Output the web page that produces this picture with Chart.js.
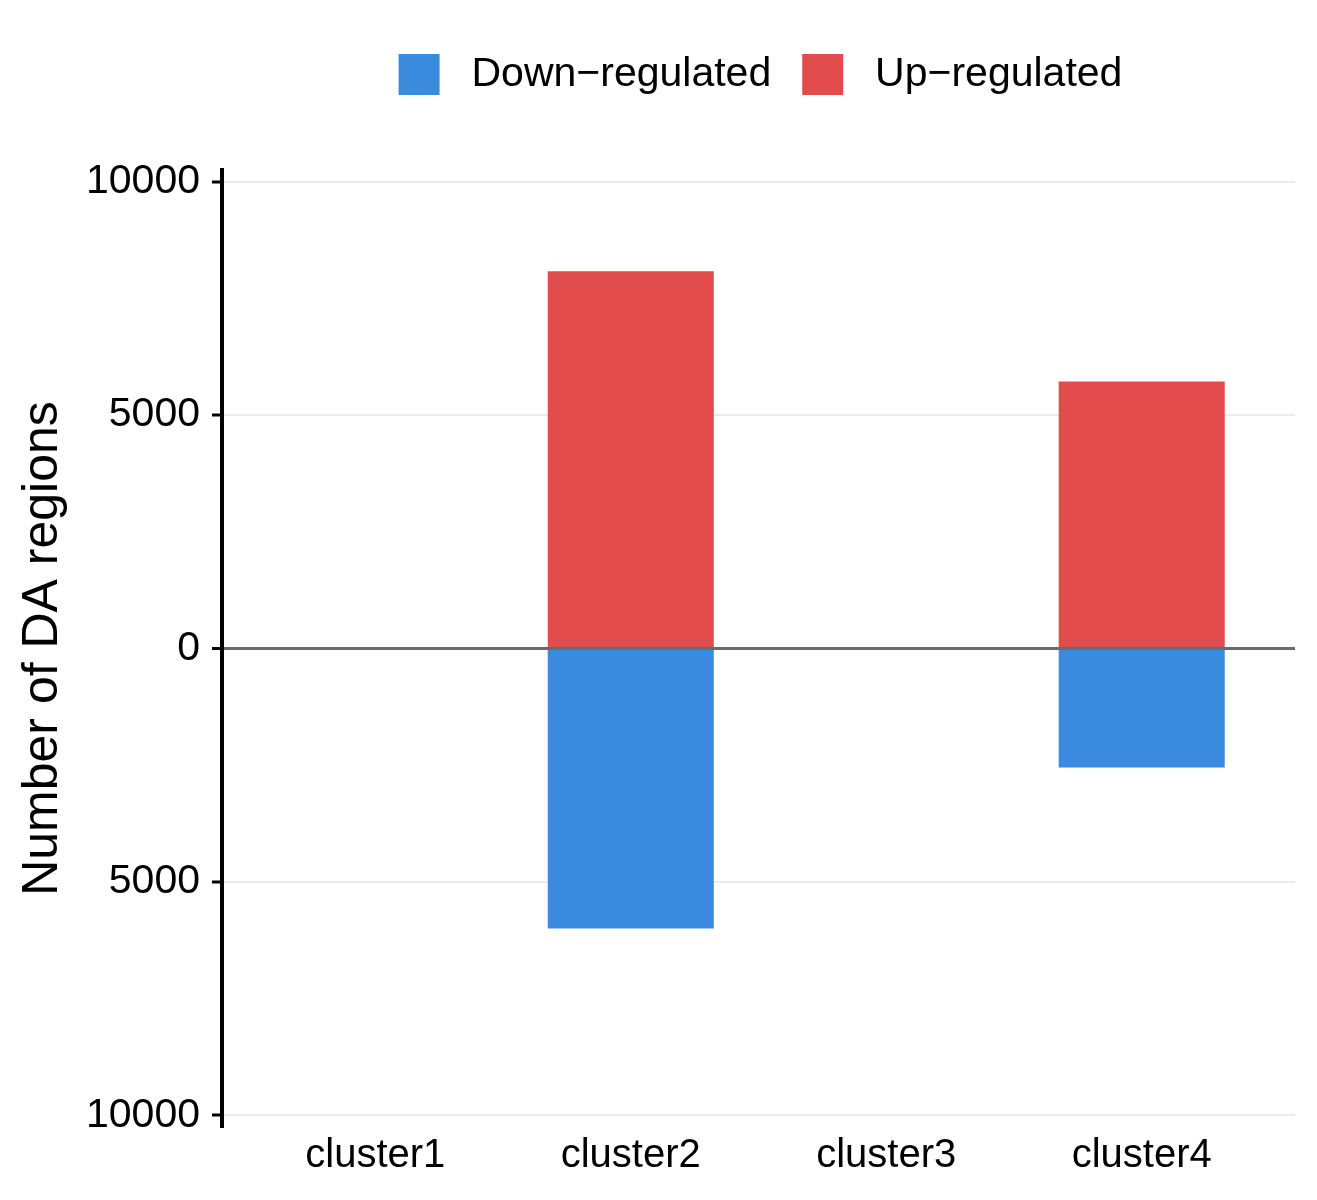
<!DOCTYPE html>
<html>
<head>
<meta charset="utf-8">
<script src="https://cdn.jsdelivr.net/npm/chart.js@4"></script>
<style>
  body { margin: 0; background: #fff; }
  #wrap { width: 1317px; height: 1200px; }
</style>
</head>
<body>
<div id="wrap"><canvas id="daChart"></canvas></div>
<script>
const categories = ["cluster1", "cluster2", "cluster3", "cluster4"];
const upRegulated = [0, 8080, 0, 5720];
const downRegulated = [0, -6000, 0, -2550];
const yTickValues = [-10000, -5000, 0, 5000, 10000];

const font = "'Liberation Sans', Arial, Helvetica, sans-serif";

// legend gets extra space below and is centred over the plot panel
const legendTweak = {
    id: "legendTweak",
    beforeInit(chart) {
        const fit = chart.legend.fit;
        chart.legend.fit = function () {
            fit.bind(this)();
            this.height += 65;
        };
    },
    afterLayout(chart) {
        const a = chart.chartArea;
        chart.legend.left = a.left + 2;
        chart.legend.right = a.right + 2;
        chart.legend.width = a.right - a.left;
    }
};

const toPoints = vals => vals.map((v, i) => ({ x: i + 1, y: v }));

new Chart(document.getElementById("daChart").getContext("2d"), {
    type: "bar",
    data: {
        datasets: [
            {
                label: " Down\u2212regulated",
                data: toPoints(downRegulated),
                backgroundColor: "#3A8BDE"
            },
            {
                label: " Up\u2212regulated",
                data: toPoints(upRegulated),
                backgroundColor: "#E34C4C"
            }
        ]
    },
    options: {
        responsive: true,
        maintainAspectRatio: false,
        animation: false,
        layout: { padding: { top: 23, left: 0, right: 22, bottom: 0 } },
        datasets: {
            bar: { grouped: false, categoryPercentage: 1, barPercentage: 0.65, borderWidth: 0 }
        },
        plugins: {
            legend: {
                position: "top",
                labels: {
                    boxWidth: 41,
                    boxHeight: 41,
                    padding: 31,
                    color: "#000",
                    font: { family: font, size: 41 }
                }
            },
            tooltip: { enabled: false }
        },
        scales: {
            x: {
                type: "linear",
                offset: false,
                min: 0.4,
                max: 4.6,
                afterBuildTicks: s => { s.ticks = categories.map((c, i) => ({ value: i + 1 })); },
                afterFit: s => { s.height = 73; },
                grid: { display: false, drawTicks: false, tickLength: 0, offset: false },
                border: { display: false },
                ticks: {
                    padding: 5,
                    color: "#000",
                    font: { family: font, size: 40 },
                    callback: v => categories[v - 1]
                }
            },
            y: {
                min: -10250,
                max: 10250,
                afterBuildTicks: s => { s.ticks = yTickValues.map(v => ({ value: v })); },
                afterFit: s => { s.width = 222; },
                grid: {
                    color: c => (c.tick && c.tick.value === 0 ? "#6B6B6B" : "#EBEBEB"),
                    lineWidth: c => (c.tick && c.tick.value === 0 ? 3 : 2),
                    tickColor: "#000",
                    tickWidth: 3,
                    tickLength: 10
                },
                border: { display: true, color: "#000", width: 4 },
                ticks: {
                    padding: 12,
                    color: "#000",
                    font: { family: font, size: 41 },
                    callback: v => Math.abs(v)
                },
                title: {
                    display: true,
                    text: "Number of DA regions",
                    color: "#000",
                    font: { family: font, size: 50 },
                    padding: { top: 13, bottom: 0 }
                }
            }
        }
    },
    plugins: [legendTweak]
});
</script>
</body>
</html>
